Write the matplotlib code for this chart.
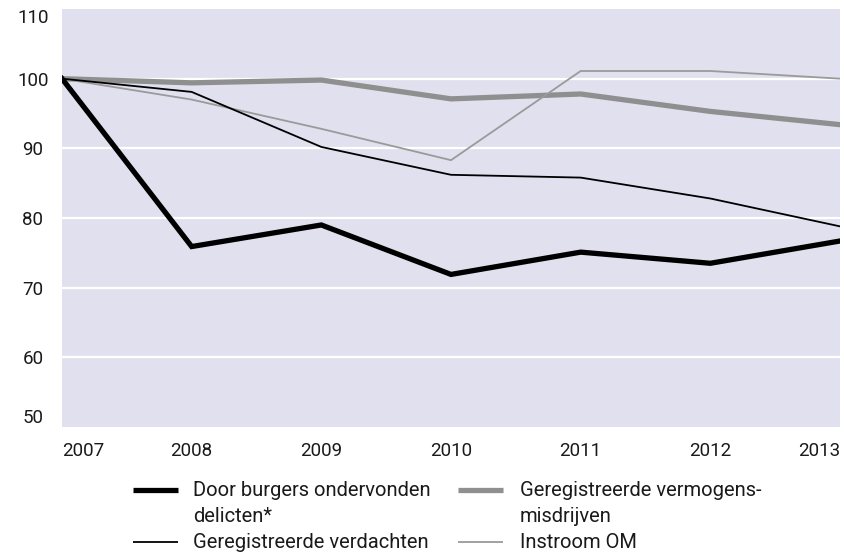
import matplotlib.pyplot as plt
from matplotlib.lines import Line2D

years = [2007, 2008, 2009, 2010, 2011, 2012, 2013]
burgers = [100, 75.9, 79.0, 71.9, 75.1, 73.5, 76.7]
verdachten = [100, 98.1, 90.2, 86.2, 85.8, 82.8, 78.8]
vermogens = [100, 99.4, 99.8, 97.1, 97.8, 95.3, 93.4]
instroom = [100, 97.0, 92.8, 88.3, 101.1, 101.1, 100.0]

labels = ['Door burgers ondervonden\ndelicten*', 'Geregistreerde verdachten',
          'Geregistreerde vermogens-\nmisdrijven', 'Instroom OM']
yticks = [50, 60, 70, 80, 90, 100, 110]

plt.rcParams['font.family'] = ['Roboto', 'DejaVu Sans']

W, H = 845, 556
fig = plt.figure(figsize=(W / 100, H / 100), dpi=100)
ax = fig.add_axes([62 / W, 1 - 427 / H, 778 / W, 418 / H])
ax.set_facecolor('#e1e0ee')

for v in yticks[1:-1]:
    ax.axhline(v, color='white', lw=1.6, zorder=1)

styles = [dict(color='black', lw=3.8, zorder=3),
          dict(color='black', lw=1.3, zorder=3),
          dict(color='#8f8f90', lw=3.8, zorder=2),
          dict(color='#9a9a9a', lw=1.3, zorder=2)]
for vals, st in zip([burgers, verdachten, vermogens, instroom], styles):
    ax.plot(years, vals, solid_joinstyle='miter', **st)

ax.set_xlim(2007, 2013)
ax.set_ylim(50, 110)
ax.set_yticks(yticks)
ax.set_xticks(years)
ax.tick_params(length=0, labelsize=13.5, colors='#1a1a1a')
ax.tick_params(axis='y', pad=21)
ax.tick_params(axis='x', pad=11)
for lab in ax.get_yticklabels():
    lab.set_horizontalalignment('center')
ylabs = ax.get_yticklabels()
ylabs[0].set_verticalalignment('bottom')
ylabs[-1].set_verticalalignment('top')
xlabs = ax.get_xticklabels()
xlabs[0].set_horizontalalignment('left')
xlabs[-1].set_horizontalalignment('right')
for s in ax.spines.values():
    s.set_visible(False)

# legend, two columns below the plot
cols = [(133, 178, 193), (458, 503, 520)]
rows = [490, 542]
order = [(0, 0), (0, 1), (1, 0), (1, 1)]
for (c, r), lab, st in zip(order, labels, styles):
    x0, x1, xt = cols[c]
    y = 1 - rows[r] / H
    fig.add_artist(Line2D([x0 / W, x1 / W], [y, y], transform=fig.transFigure,
                          color=st['color'], lw=st['lw'], solid_capstyle='butt'))
    for i, part in enumerate(lab.split('\n')):
        fig.text(xt / W, 1 - (rows[r] + 27 * i) / H, part, fontsize=14.5,
                 va='center', ha='left', color='#1a1a1a')

fig.savefig('out.png', dpi=100)
